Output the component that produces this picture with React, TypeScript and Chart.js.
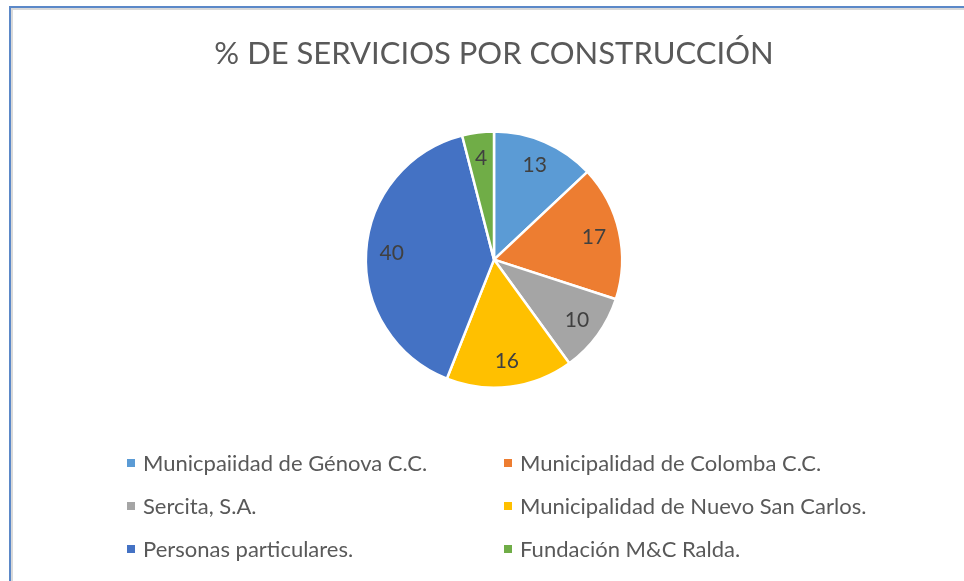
import React, { useEffect, useRef } from "react";
import { Chart, registerables } from "chart.js";

Chart.register(...registerables);

const TITLE = "% DE SERVICIOS POR CONSTRUCCIÓN";
const categories = [
  "Municpaiidad de Génova C.C.",
  "Municipalidad de Colomba C.C.",
  "Sercita, S.A.",
  "Municipalidad de Nuevo San Carlos.",
  "Personas particulares.",
  "Fundación M&C Ralda.",
];
const values = [13, 17, 10, 16, 40, 4];
const colors = ["#5B9BD5", "#ED7D31", "#A5A5A5", "#FFC000", "#4472C4", "#70AD47"];

const FONT = "Lato, 'Liberation Sans', sans-serif";

const labelPlugin = {
  id: "sliceLabels",
  afterDatasetsDraw(chart: any) {
    const ctx = chart.ctx;
    const meta = chart.getDatasetMeta(0);
    ctx.save();
    ctx.font = `21px ${FONT}`;
    ctx.fillStyle = "#404040";
    ctx.textAlign = "center";
    ctx.textBaseline = "middle";
    meta.data.forEach((arc: any, i: number) => {
      const p = arc.getProps(["x", "y", "startAngle", "endAngle", "outerRadius"], true);
      const mid = (p.startAngle + p.endAngle) / 2;
      const d = p.outerRadius * 0.8;
      ctx.fillText(String(chart.data.datasets[0].data[i]), p.x + Math.cos(mid) * d, p.y + Math.sin(mid) * d);
    });
    ctx.restore();
  },
};

const legendPlugin = {
  id: "gridLegend",
  afterDraw(chart: any) {
    const ctx = chart.ctx;
    const labels: string[] = chart.data.labels;
    const cols = [127, 504];
    const rows = [463, 506, 549];
    ctx.save();
    ctx.font = `22px ${FONT}`;
    ctx.textBaseline = "middle";
    ctx.textAlign = "left";
    labels.forEach((lab, i) => {
      const x = cols[i % 2];
      const y = rows[Math.floor(i / 2)];
      ctx.fillStyle = chart.data.datasets[0].backgroundColor[i];
      ctx.fillRect(x, y - 4, 8, 8);
      ctx.fillStyle = "#595959";
      ctx.fillText(lab, x + 16, y + 1);
    });
    ctx.restore();
  },
};

export default function App() {
  const ref = useRef<HTMLCanvasElement>(null);
  useEffect(() => {
    if (!ref.current) return;
    const chart = new Chart(ref.current, {
      type: "pie",
      data: {
        labels: categories,
        datasets: [
          {
            data: values,
            backgroundColor: colors,
            borderColor: "#FFFFFF",
            borderWidth: 2.5,
          },
        ],
      },
      options: {
        responsive: false,
        animation: false,
        layout: { padding: { top: 0, bottom: 192, left: 24, right: 0 } },
        plugins: {
          legend: { display: false },
          tooltip: { enabled: false },
          title: {
            display: true,
            text: TITLE,
            color: "#595959",
            font: { family: FONT, size: 31, weight: "normal" },
            padding: { top: 35, bottom: 58 },
          },
        },
      },
      plugins: [labelPlugin, legendPlugin],
    });
    return () => chart.destroy();
  }, []);
  return (
    <div style={{ position: "fixed", left: 0, top: 0, width: 964, height: 581, background: "#fff", overflow: "hidden" }}>
      <canvas ref={ref} width={964} height={581} style={{ position: "absolute", left: 0, top: 0 }} />
      <div
        style={{
          position: "absolute",
          left: 9,
          top: 6,
          width: 1000,
          height: 600,
          borderLeft: "2px solid #5B88C8",
          borderTop: "2px solid #5B88C8",
          boxShadow: "inset 2px 2px 0 #D9D9D9",
          pointerEvents: "none",
        }}
      />
    </div>
  );
}
